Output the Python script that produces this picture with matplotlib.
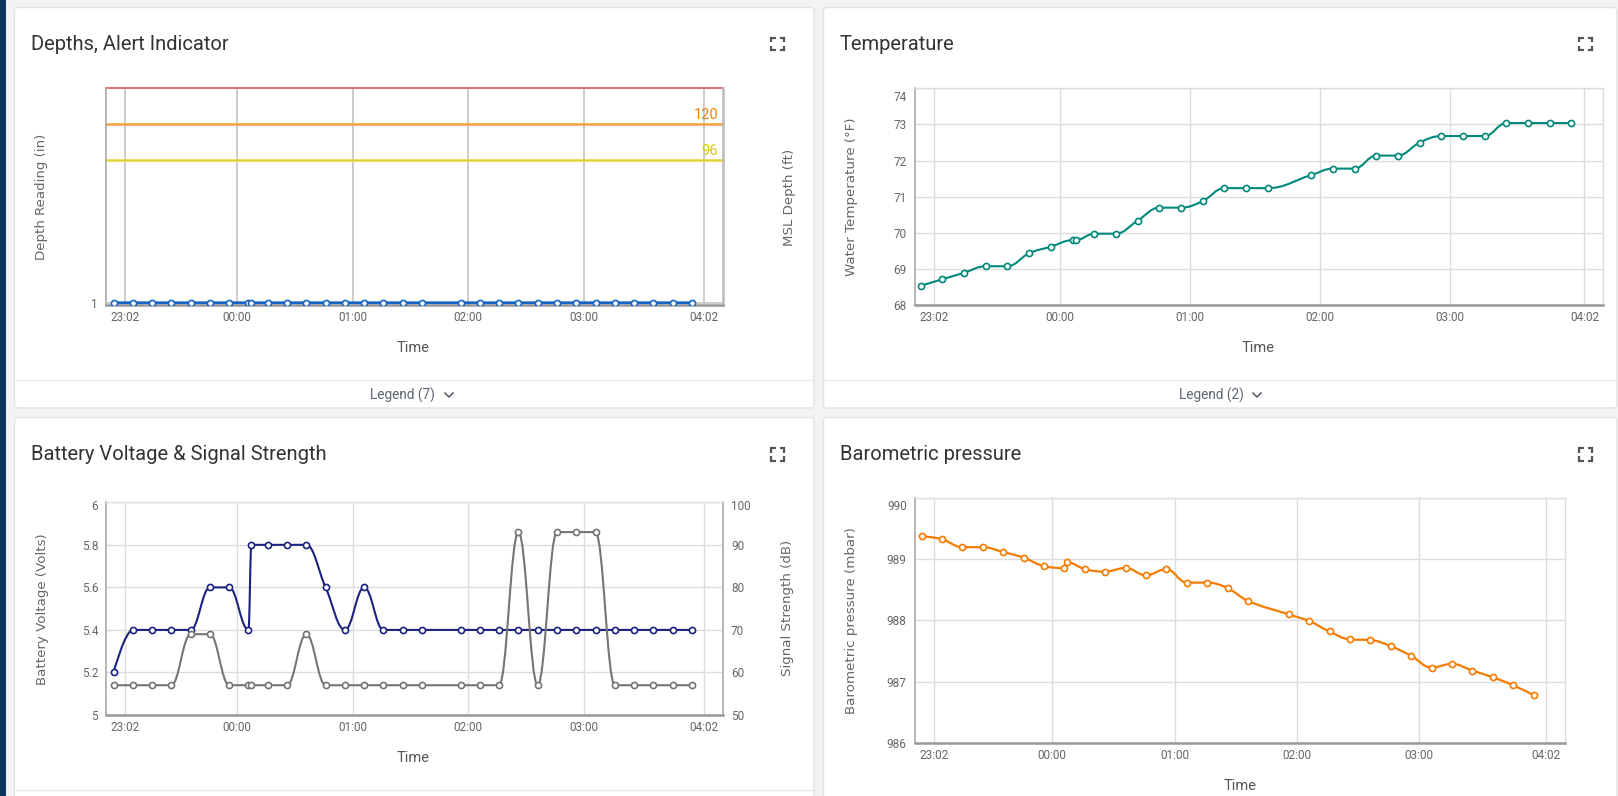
import matplotlib
matplotlib.use('Agg')
import matplotlib.pyplot as plt
from matplotlib.path import Path
from matplotlib.patches import PathPatch, FancyBboxPatch, Rectangle
from matplotlib.lines import Line2D
import matplotlib.transforms as mtrans

plt.rcParams['font.family'] = ['Roboto', 'DejaVu Sans']

# ---------------- data ----------------
times = ["22:56", "23:06", "23:16", "23:26", "23:36", "23:46", "23:56",
         "00:06", "00:07:30", "00:16", "00:26", "00:36", "00:46", "00:56",
         "01:06", "01:16", "01:26", "01:36", "01:56", "02:06", "02:16",
         "02:26", "02:36", "02:46", "02:56", "03:06", "03:16", "03:26",
         "03:36", "03:46", "03:56"]

tick_labels = ["23:02", "00:00", "01:00", "02:00", "03:00", "04:02"]

depth_reading = [1, 1, 1, 1, 1, 1, 1, 1, 1, 1, 1, 1, 1, 1, 1, 1,
                 1, 1, 1, 1, 1, 1, 1, 1, 1, 1, 1, 1, 1, 1, 1]
threshold_values = [144, 120, 96]
threshold_colors = ['#e06666', '#f5a045', '#e3d435']
threshold_labels = ['', '120', '96']
threshold_label_colors = ['#e06666', '#f57c00', '#d8c61a']

temperature = [68.54, 68.72, 68.90, 69.08, 69.08, 69.44, 69.62, 69.80, 69.80,
               69.98, 69.98, 70.34, 70.70, 70.70, 70.88, 71.24, 71.24, 71.24,
               71.60, 71.78, 71.78, 72.14, 72.14, 72.50, 72.68, 72.68, 72.68,
               73.04, 73.04, 73.04, 73.04]
temp_yticks = [68, 69, 70, 71, 72, 73, 74]

battery = [5.2, 5.4, 5.4, 5.4, 5.4, 5.6, 5.6, 5.4, 5.8,
           5.8, 5.8, 5.8, 5.6, 5.4, 5.6, 5.4, 5.4, 5.4,
           5.4, 5.4, 5.4, 5.4, 5.4, 5.4, 5.4, 5.4, 5.4, 5.4, 5.4, 5.4, 5.4]
signal = [57, 57, 57, 57, 69, 69, 57, 57, 57,
          57, 57, 69, 57, 57, 57, 57, 57, 57,
          57, 57, 57, 93, 57, 93, 93, 93, 57, 57, 57, 57, 57]
batt_yticks = [5, 5.2, 5.4, 5.6, 5.8, 6]
batt_ylabels = ["5", "5.2", "5.4", "5.6", "5.8", "6"]
sig_yticks = [50, 60, 70, 80, 90, 100]

pressure = [989.38, 989.33, 989.20, 989.20, 989.12, 989.03, 988.89, 988.86, 988.95,
            988.84, 988.80, 988.86, 988.74, 988.84, 988.62, 988.62, 988.53, 988.32,
            988.10, 987.99, 987.82, 987.69, 987.68, 987.58, 987.42, 987.23, 987.29,
            987.18, 987.07, 986.94, 986.78]
press_yticks = [986, 987, 988, 989, 990]

DEPTH_C = '#1565c0'
TEMP_C = '#00897b'
BATT_C = '#1a237e'
SIG_C = '#757575'
PRESS_C = '#f57c00'


def to_min(s):
    parts = [int(p) for p in s.split(':')]
    h, m = parts[0], parts[1]
    sec = parts[2] if len(parts) > 2 else 0
    v = h * 60 + m + sec / 60.0
    if h >= 12:
        v -= 1440
    return v


tx = [to_min(t) for t in times]
tick_pos = [to_min(t) for t in tick_labels]

# ---------------- figure ----------------
W, H = 1618, 796
fig = plt.figure(figsize=(W / 100, H / 100), dpi=100, facecolor='#f3f3f3')
pix = mtrans.Affine2D().scale(1.0 / W, -1.0 / H).translate(0, 1) + fig.transFigure


def fx(x):
    return x / W


def fy(y):
    return 1 - y / H


# side strip
fig.add_artist(Rectangle((0, 0), 6.5, H, transform=pix, facecolor='#0f355f',
                         edgecolor='none', zorder=-3))

cards = [(14.5, 7.5, 814, 408), (823.5, 7.5, 1617, 408),
         (14.5, 417.5, 814, 805), (823.5, 417.5, 1617, 805)]
for (x0, y0, x1, y1) in cards:
    fig.add_artist(FancyBboxPatch((x0, y0), x1 - x0, y1 - y0,
                                  boxstyle='round,pad=0,rounding_size=3',
                                  transform=pix, facecolor='white',
                                  edgecolor='#e2e2e2', lw=1, zorder=-2))

# dividers of legend sections
for (x0, x1, y) in [(15, 813.5, 379.5), (824, 1616.5, 379.5), (15, 813.5, 789.5)]:
    fig.add_artist(Line2D([x0, x1], [y, y], transform=pix, color='#e8e8e8', lw=1, zorder=-1))

# titles
titles = [("Depths, Alert Indicator", 31, 44), ("Temperature", 840, 44),
          ("Battery Voltage & Signal Strength", 31, 454.5), ("Barometric pressure", 840, 454.5)]
for t, x, y in titles:
    fig.text(fx(x), fy(y), t, fontsize=14.5, color='#333333', ha='left', va='center',
             family=['Roboto', 'DejaVu Sans'])

# expand icons
def expand_icon(x0, y0, x1, y1):
    a = 4.5
    for (cx, cy, sx, sy) in [(x0, y0, 1, 1), (x1, y0, -1, 1), (x0, y1, 1, -1), (x1, y1, -1, -1)]:
        fig.add_artist(Line2D([cx + sx * a, cx, cx], [cy, cy, cy + sy * a], transform=pix,
                              color='#555555', lw=1.6, solid_capstyle='butt',
                              solid_joinstyle='miter', zorder=5))


for (x0, y0) in [(771.5, 37.5), (1579.5, 37.5), (771.5, 448), (1579.5, 448)]:
    expand_icon(x0, y0, x0 + 13, y0 + 12.5)

# legend toggles
for (txt, xc, chev) in [("Legend (7)", 402.5, 449), ("Legend (2)", 1211, 1257)]:
    fig.text(fx(xc), fy(395), txt, fontsize=9.8, color='#5b6570', ha='center', va='center')
    fig.add_artist(Line2D([chev - 4, chev, chev + 4], [393, 397, 393], transform=pix,
                          color='#5b6570', lw=1.2, zorder=5))


# ---------------- helpers ----------------
def hc_spline(xs, ys, smoothing=1.5):
    n = len(xs)
    verts = [(xs[0], ys[0])]
    codes = [Path.MOVETO]
    rc = [None] * n
    d = smoothing + 1
    for i in range(1, n):
        px, py = xs[i], ys[i]
        lx, ly = xs[i - 1], ys[i - 1]
        lcx, lcy = px, py
        if i < n - 1:
            nx, ny = xs[i + 1], ys[i + 1]
            lcx = (smoothing * px + lx) / d
            lcy = (smoothing * py + ly) / d
            rcx = (smoothing * px + nx) / d
            rcy = (smoothing * py + ny) / d
            if rcx != lcx:
                corr = ((rcy - lcy) * (rcx - px)) / (rcx - lcx) + py - rcy
                lcy += corr
                rcy += corr
            if lcy > ly and lcy > py:
                lcy = max(ly, py)
                rcy = 2 * py - lcy
            elif lcy < ly and lcy < py:
                lcy = min(ly, py)
                rcy = 2 * py - lcy
            if rcy > ny and rcy > py:
                rcy = max(ny, py)
                lcy = 2 * py - rcy
            elif rcy < ny and rcy < py:
                rcy = min(ny, py)
                lcy = 2 * py - rcy
            rc[i] = (rcx, rcy)
        prc = rc[i - 1] if rc[i - 1] is not None else (lx, ly)
        verts += [prc, (lcx, lcy), (px, py)]
        codes += [Path.CURVE4] * 3
    return Path(verts, codes)


def series(ax, xs, ys, color, lw=1.5, z=3):
    ax.add_patch(PathPatch(hc_spline(xs, ys), facecolor='none', edgecolor=color, lw=lw,
                           zorder=z, joinstyle='round', capstyle='round'))
    ax.plot(xs, ys, linestyle='none', marker='o', ms=4.4, mfc='white', mec=color,
            mew=1.2, zorder=z + 0.1)


def make_ax(x0, y0, x1, y1):
    return fig.add_axes([x0 / W, 1 - y1 / H, (x1 - x0) / W, (y1 - y0) / H])


def style(ax, xlim, ylim, grid_c='#dddddd', grid_lw=1.0):
    ax.set_xlim(*xlim)
    ax.set_ylim(*ylim)
    ax.set_facecolor('white')
    ax.set_xticks(tick_pos, tick_labels)
    ax.tick_params(axis='both', length=0, labelsize=8.5, labelcolor='#666666')
    ax.tick_params(axis='x', pad=4.3)
    ax.tick_params(axis='y', pad=5.7)
    ax.grid(True, color=grid_c, lw=grid_lw, zorder=0)
    ax.set_axisbelow(True)
    ax.spines['left'].set_color('#aaaaaa')
    ax.spines['left'].set_linewidth(1.2)
    ax.spines['bottom'].set_color('#999999')
    ax.spines['bottom'].set_linewidth(1.8)
    ax.spines['top'].set_color('#dddddd')
    ax.spines['top'].set_linewidth(1.0)
    ax.spines['right'].set_color('#dddddd')
    ax.spines['right'].set_linewidth(1.0)


def label_y(ax, text, x, y):
    ax.set_ylabel(text, fontsize=9.6, color='#666666', family=['DejaVu Sans'])
    ax.yaxis.set_label_coords(fx(x), fy(y), transform=fig.transFigure)
    ax.yaxis.label.set_va('center')


def label_x(ax, x, y):
    ax.set_xlabel("Time", fontsize=10.5, color='#555555')
    ax.xaxis.set_label_coords(fx(x), fy(y), transform=fig.transFigure)
    ax.xaxis.label.set_va('center')


def top_label(ax, yval, text, side, dy_px, pad_px=8):
    if side == 'left':
        x, ha, dx = 0, 'left', -pad_px
        ha = 'right'
    else:
        x, ha, dx = 1, 'left', pad_px
    off = mtrans.ScaledTranslation(dx / 100.0, -dy_px / 100.0, fig.dpi_scale_trans)
    ax.text(x, yval, text, transform=ax.get_yaxis_transform() + off, ha=ha, va='center',
            fontsize=8.5, color='#666666', clip_on=False)


# ---------------- panel 1: depths ----------------
ax1 = make_ax(106, 88, 723, 305)
style(ax1, (-67.9, 252.1), (-0.5, 144), grid_c='#c9c9c9', grid_lw=1.3)
ax1.set_yticks([1], ["1"])
ax1.spines['top'].set_visible(False)
ax1.spines['right'].set_color('#bbbbbb')
ax1.spines['right'].set_linewidth(1.8)
for v, c, lab, lc in zip(threshold_values, threshold_colors, threshold_labels, threshold_label_colors):
    ax1.axhline(v, color=c, lw=1.3 if v == threshold_values[0] else 1.8, zorder=2, clip_on=False)
    if lab:
        off = mtrans.ScaledTranslation(-5 / 100.0, 2.5 / 100.0, fig.dpi_scale_trans)
        ax1.text(1, v, lab, transform=ax1.get_yaxis_transform() + off, ha='right', va='bottom',
                 fontsize=10.5, color=lc)
series(ax1, tx, depth_reading, DEPTH_C, lw=2.0)
label_y(ax1, "Depth Reading (in)", 41, 197)
label_x(ax1, 413, 348)
ax1r = ax1.twinx()
ax1r.set_ylim(0, 1)
ax1r.set_yticks([])
ax1r.set_facecolor('none')
for s in ax1r.spines.values():
    s.set_visible(False)
ax1r.set_ylabel("MSL Depth (ft)", fontsize=9.6, color='#666666', family=['DejaVu Sans'])
ax1r.yaxis.set_label_coords(fx(789), fy(197), transform=fig.transFigure)
ax1r.yaxis.label.set_va('center')

# ---------------- panel 2: temperature ----------------
ax2 = make_ax(914.6, 88.3, 1602.5, 305.3)
style(ax2, (-66.8, 250.3), (68, 74))
ax2.set_yticks(temp_yticks, [str(v) for v in temp_yticks[:-1]] + [''])
top_label(ax2, temp_yticks[-1], str(temp_yticks[-1]), 'left', 9, pad_px=7.6)
series(ax2, tx, temperature, TEMP_C, lw=1.5)
label_y(ax2, "Water Temperature (°F)", 851, 197)
label_x(ax2, 1258, 348)

# ---------------- panel 3: battery & signal ----------------
ax3 = make_ax(106, 502.3, 723, 715)
style(ax3, (-67.9, 252.1), (5, 6))
ax3.set_yticks(batt_yticks, batt_ylabels[:-1] + [''])
top_label(ax3, batt_yticks[-1], batt_ylabels[-1], 'left', 4.4, pad_px=8)
ax3.spines['right'].set_color('#aaaaaa')
ax3.spines['right'].set_linewidth(1.2)
ax3.spines['top'].set_color('#dddddd')
series(ax3, tx, battery, BATT_C, lw=1.5, z=4)
label_y(ax3, "Battery Voltage (Volts)", 42.4, 609)
label_x(ax3, 413, 757.7)
ax3r = ax3.twinx()
ax3r.set_ylim(50, 100)
ax3r.set_facecolor('none')
ax3r.set_yticks(sig_yticks, [str(v) for v in sig_yticks[:-1]] + [''])
ax3r.tick_params(axis='y', length=0, labelsize=8.5, labelcolor='#666666', pad=5.7)
for s in ax3r.spines.values():
    s.set_visible(False)
top_label(ax3r, sig_yticks[-1], str(sig_yticks[-1]), 'right', 4.4, pad_px=8)
series(ax3r, tx, signal, SIG_C, lw=1.5, z=3)
ax3r.set_ylabel("Signal Strength (dB)", fontsize=9.6, color='#666666', family=['DejaVu Sans'])
ax3r.yaxis.set_label_coords(fx(787.7), fy(608), transform=fig.transFigure)
ax3r.yaxis.label.set_va('center')

# ---------------- panel 4: pressure ----------------
ax4 = make_ax(914.6, 498.3, 1565, 742.7)
style(ax4, (-67.4, 251.4), (986, 990))
ax4.set_yticks(press_yticks, [str(v) for v in press_yticks[:-1]] + [''])
top_label(ax4, press_yticks[-1], str(press_yticks[-1]), 'left', 8.4, pad_px=7.6)
series(ax4, tx, pressure, PRESS_C, lw=1.6)
label_y(ax4, "Barometric pressure (mbar)", 851, 620.7)
label_x(ax4, 1240, 785.7)

fig.savefig('out.png', dpi=100, facecolor=fig.get_facecolor())
